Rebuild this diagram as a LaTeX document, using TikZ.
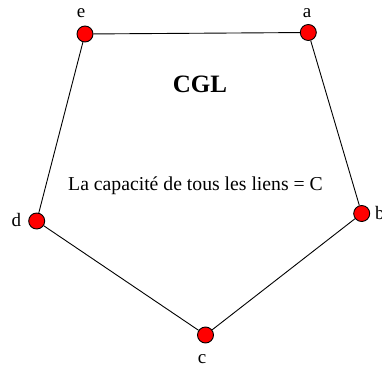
\documentclass[tikz,border=0pt]{standalone}
\usepackage{fontspec}
\setmainfont{Liberation Serif}
\begin{document}
\begin{tikzpicture}[x=1pt,y=-1pt,
  vtx/.style={circle,draw=black,fill=red,line width=0.9pt,minimum size=16pt,inner sep=0pt},
  lbl/.style={inner sep=0pt,anchor=base,font=\fontsize{19}{22}\selectfont},
  edge/.style={draw=black,line width=0.9pt}]
\useasboundingbox (0,0) rectangle (382,369);
\node[vtx] (e) at (85,34) {};
\node[vtx] (a) at (308.3,32.5) {};
\node[vtx] (b) at (361.7,213.5) {};
\node[vtx] (c) at (205.5,335) {};
\node[vtx] (d) at (36.7,221) {};
\draw[edge] (e) -- (a);
\draw[edge] (a) -- (b);
\draw[edge] (b) -- (c);
\draw[edge] (c) -- (d);
\draw[edge] (d) -- (e);
\node[lbl] (le) at (81,18) {e};
\node[lbl] (la) at (307,18) {a};
\node[lbl,anchor=base west] (lb) at (375,219) {b};
\node[lbl] (lc) at (202,363) {c};
\node[lbl] (ld) at (16.5,226.5) {d};
\node[inner sep=0pt,anchor=base,font=\fontsize{25}{30}\selectfont\bfseries] (t) at (200,92) {CGL};
\node[inner sep=0pt,anchor=base,font=\fontsize{19.7}{24}\selectfont] (cap) at (195.5,190) {La capacité de tous les liens = C};
\end{tikzpicture}
\end{document}
